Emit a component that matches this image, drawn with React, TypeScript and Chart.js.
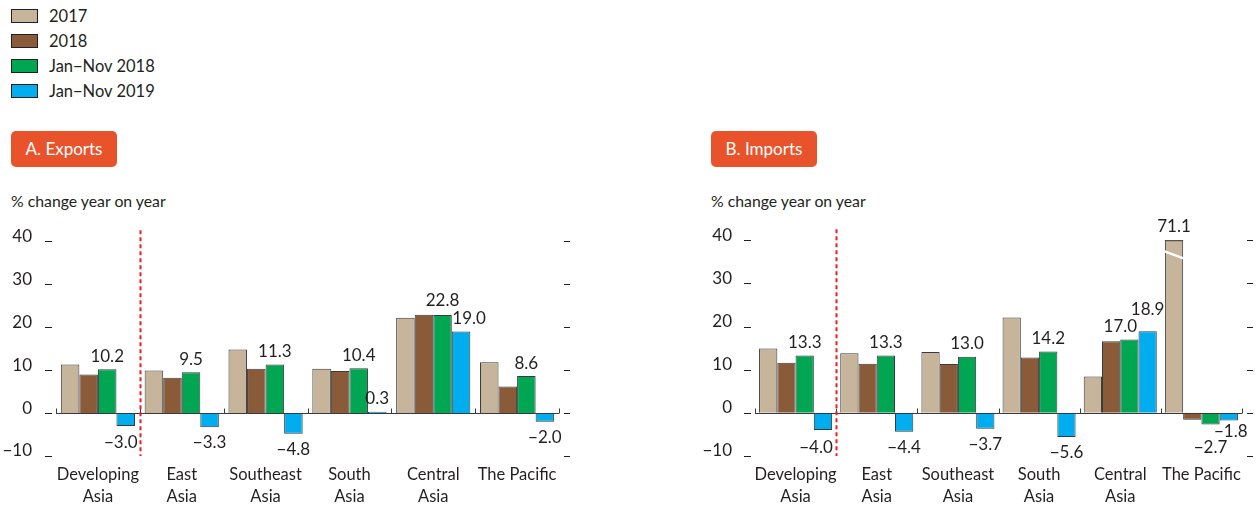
import React, { useEffect, useRef } from "react";
import { Chart, registerables } from "chart.js";

Chart.register(...registerables);

const categories: (string | string[])[] = [
  ["Developing", "Asia"],
  ["East", "Asia"],
  ["Southeast", "Asia"],
  ["South", "Asia"],
  ["Central", "Asia"],
  "The Pacific",
];
const seriesNames = ["2017", "2018", "Jan\u2212Nov 2018", "Jan\u2212Nov 2019"];

const exports2017 = [11.3, 9.9, 14.8, 10.3, 22.2, 11.8];
const exports2018 = [9.0, 8.2, 10.3, 9.8, 22.9, 6.2];
const exportsJanNov2018 = [10.2, 9.5, 11.3, 10.4, 22.8, 8.6];
const exportsJanNov2019 = [-3.0, -3.3, -4.8, 0.3, 19.0, -2.0];

const imports2017 = [14.9, 13.8, 14.1, 22.1, 8.4, 71.1];
const imports2018 = [11.6, 11.4, 11.3, 12.8, 16.6, -1.6];
const importsJanNov2018 = [13.3, 13.3, 13.0, 14.2, 17.0, -2.7];
const importsJanNov2019 = [-4.0, -4.4, -3.7, -5.6, 18.9, -1.8];

const yTicks = [-10, 0, 10, 20, 30, 40];
const labelledSeries = [2, 3];

const COLORS = ["#c6b59b", "#8a5b39", "#00a651", "#00aeef"];
const TEXT = "#231f20";
const EDGE = "#3a3a3c";
const FONT = "Lato";

const fmt = (v: number, digits: number) =>
  (v < 0 ? "\u2212" : "") + Math.abs(v).toFixed(digits);

type Nudges = Record<string, [number, number]>;

const decorPlugin = {
  id: "panelDecor",
  afterDatasetsDraw(chart: any, _args: any, opts: any) {
    const { ctx, chartArea } = chart;
    const y = chart.scales.y;
    const n = chart.data.labels.length;
    const { left, right, top, bottom } = chartArea;
    const step = (right - left) / n;
    const y0 = Math.round(y.getPixelForValue(0)) + 0.5;
    ctx.save();

    // baseline and category ticks
    ctx.strokeStyle = EDGE;
    ctx.lineWidth = 1;
    ctx.beginPath();
    ctx.moveTo(left, y0);
    ctx.lineTo(right, y0);
    for (let i = 0; i <= n; i++) {
      const x = Math.round(left + i * step) + 0.5;
      ctx.moveTo(x, y0);
      ctx.lineTo(x, y0 - 5);
    }
    ctx.stroke();

    // side tick dashes
    ctx.strokeStyle = TEXT;
    ctx.beginPath();
    for (const v of yTicks) {
      const py = Math.round(y.getPixelForValue(v)) + 0.5;
      ctx.moveTo(left - 11, py);
      ctx.lineTo(left - 4, py);
      ctx.moveTo(right + 5, py);
      ctx.lineTo(right + 11, py);
    }
    ctx.stroke();

    // red dashed separator
    const xs = Math.round(left + step) + 0.5;
    ctx.strokeStyle = "#ed1c24";
    ctx.lineWidth = 2;
    ctx.setLineDash([4, 3]);
    ctx.beginPath();
    ctx.moveTo(xs, top - 11);
    ctx.lineTo(xs, bottom);
    ctx.stroke();
    ctx.setLineDash([]);

    const max = y.max;
    const nudges: Nudges = opts.nudges || {};
    ctx.font = `17px ${FONT}`;
    ctx.fillStyle = TEXT;
    ctx.textAlign = "center";
    ctx.textBaseline = "middle";

    chart.data.datasets.forEach((ds: any, di: number) => {
      const meta = chart.getDatasetMeta(di);
      meta.data.forEach((el: any, i: number) => {
        const v = ds.data[i];
        const clipped = v > max;
        if (clipped) {
          const x1 = el.x - el.width / 2;
          const x2 = el.x + el.width / 2;
          ctx.strokeStyle = EDGE;
          ctx.lineWidth = 1;
          ctx.beginPath();
          ctx.moveTo(x1, top + 0.5);
          ctx.lineTo(x2, top + 0.5);
          ctx.stroke();
          ctx.strokeStyle = "#ffffff";
          ctx.lineWidth = 2.5;
          ctx.beginPath();
          ctx.moveTo(x1 - 1, top + 11);
          ctx.lineTo(x2 + 1, top + 18.5);
          ctx.stroke();
        }
        if (!clipped && !labelledSeries.includes(di)) return;
        const [dx, dy] = nudges[`${di}-${i}`] || [0, 0];
        let ly: number;
        if (clipped) ly = top - 14;
        else if (v >= 0) ly = el.y - 13;
        else ly = el.y + 15.5;
        ctx.fillStyle = TEXT;
        ctx.fillText(fmt(v, 1), el.x + dx, ly + dy);
      });
    });
    ctx.restore();
  },
};

function buildChart(
  canvas: HTMLCanvasElement,
  series: number[][],
  yAxisWidth: number,
  labelPad: number,
  rightPad: number,
  groupPct: number,
  nudges: Nudges
) {
  return new Chart(canvas, {
    type: "bar",
    data: {
      labels: categories,
      datasets: series.map((d, k) => ({
        label: seriesNames[k],
        data: d,
        backgroundColor: COLORS[k],
        borderColor: EDGE,
        borderWidth: 1,
        categoryPercentage: groupPct,
        barPercentage: 1,
        clip: 0,
      })),
    },
    options: {
      animation: false,
      responsive: false,
      maintainAspectRatio: false,
      devicePixelRatio: 1,
      layout: { padding: { top: 22, right: rightPad, left: 0, bottom: 0 } },
      plugins: {
        legend: { display: false },
        tooltip: { enabled: false },
        panelDecor: { nudges },
      } as any,
      scales: {
        x: {
          grid: { display: false },
          border: { display: false },
          ticks: {
            color: TEXT,
            font: { family: FONT, size: 16.5, lineHeight: 1.3 },
            padding: 0,
            maxRotation: 0,
            autoSkip: false,
          },
          afterFit: (s: any) => {
            s.height = 50;
          },
        },
        y: {
          min: -10,
          max: 40,
          grid: { display: false },
          border: { display: false },
          ticks: {
            color: TEXT,
            font: { family: FONT, size: 17 },
            padding: labelPad,
            labelOffset: -5,
            callback: (v: any) => fmt(Number(v), 0),
          },
          afterBuildTicks: (s: any) => {
            s.ticks = yTicks.map((v) => ({ value: v }));
          },
          afterFit: (s: any) => {
            s.width = yAxisWidth;
          },
        },
      },
    },
    plugins: [decorPlugin],
  } as any);
}

function Panel(props: {
  left: number;
  title: string;
  series: number[][];
  yAxisWidth: number;
  labelPad: number;
  width: number;
  rightPad: number;
  groupPct: number;
  nudges: Nudges;
}) {
  const ref = useRef<HTMLCanvasElement>(null);
  useEffect(() => {
    if (!ref.current) return;
    const c = buildChart(
      ref.current,
      props.series,
      props.yAxisWidth,
      props.labelPad,
      props.rightPad,
      props.groupPct,
      props.nudges
    );
    return () => c.destroy();
  }, []);
  return (
    <>
      <div
        style={{
          position: "absolute",
          left: props.left + 11,
          top: 131,
          width: 106,
          height: 36,
          background: "#e9532b",
          borderRadius: 5,
          color: "#fff",
          fontFamily: FONT,
          fontSize: 17,
          lineHeight: "36px",
          textAlign: "center",
        }}
      >
        {props.title}
      </div>
      <div
        style={{
          position: "absolute",
          left: props.left + 11,
          top: 191,
          fontFamily: FONT,
          fontSize: 15.8,
          color: TEXT,
          lineHeight: "20px",
          whiteSpace: "nowrap",
        }}
      >
        % change year on year
      </div>
      <canvas
        ref={ref}
        width={props.width}
        height={291}
        style={{ position: "absolute", left: props.left, top: 215, width: props.width, height: 291 }}
      />
    </>
  );
}

export default function App() {
  return (
    <div
      style={{
        position: "absolute",
        left: 0,
        top: 0,
        width: 1257,
        height: 506,
        background: "#fff",
        overflow: "hidden",
      }}
    >
      {seriesNames.map((name, k) => (
        <div
          key={name}
          style={{
            position: "absolute",
            left: 11,
            top: 6 + k * 25,
            height: 20,
            display: "flex",
            alignItems: "center",
            fontFamily: FONT,
            fontSize: 16.5,
            color: TEXT,
            whiteSpace: "nowrap",
          }}
        >
          <span
            style={{
              display: "inline-block",
              width: 25,
              height: 12,
              background: COLORS[k],
              border: `1px solid ${TEXT}`,
              marginRight: 11,
            }}
          />
          {name}
        </div>
      ))}
      <Panel
        left={0}
        title="A. Exports"
        series={[exports2017, exports2018, exportsJanNov2018, exportsJanNov2019]}
        yAxisWidth={56}
        labelPad={16}
        width={600}
        rightPad={41}
        groupPct={0.885}
        nudges={{ "3-0": [-5, 1], "2-4": [0, -2], "3-4": [8, 0] }}
      />
      <Panel
        left={700}
        title="B. Imports"
        series={[imports2017, imports2018, importsJanNov2018, importsJanNov2019]}
        yAxisWidth={55}
        labelPad={15}
        width={557}
        rightPad={15}
        groupPct={0.9}
        nudges={{
          "3-0": [-7, 2],
          "2-4": [-9, 0],
          "3-4": [0, -9],
          "2-5": [0, 8],
          "3-5": [2, -5],
        }}
      />
    </div>
  );
}
